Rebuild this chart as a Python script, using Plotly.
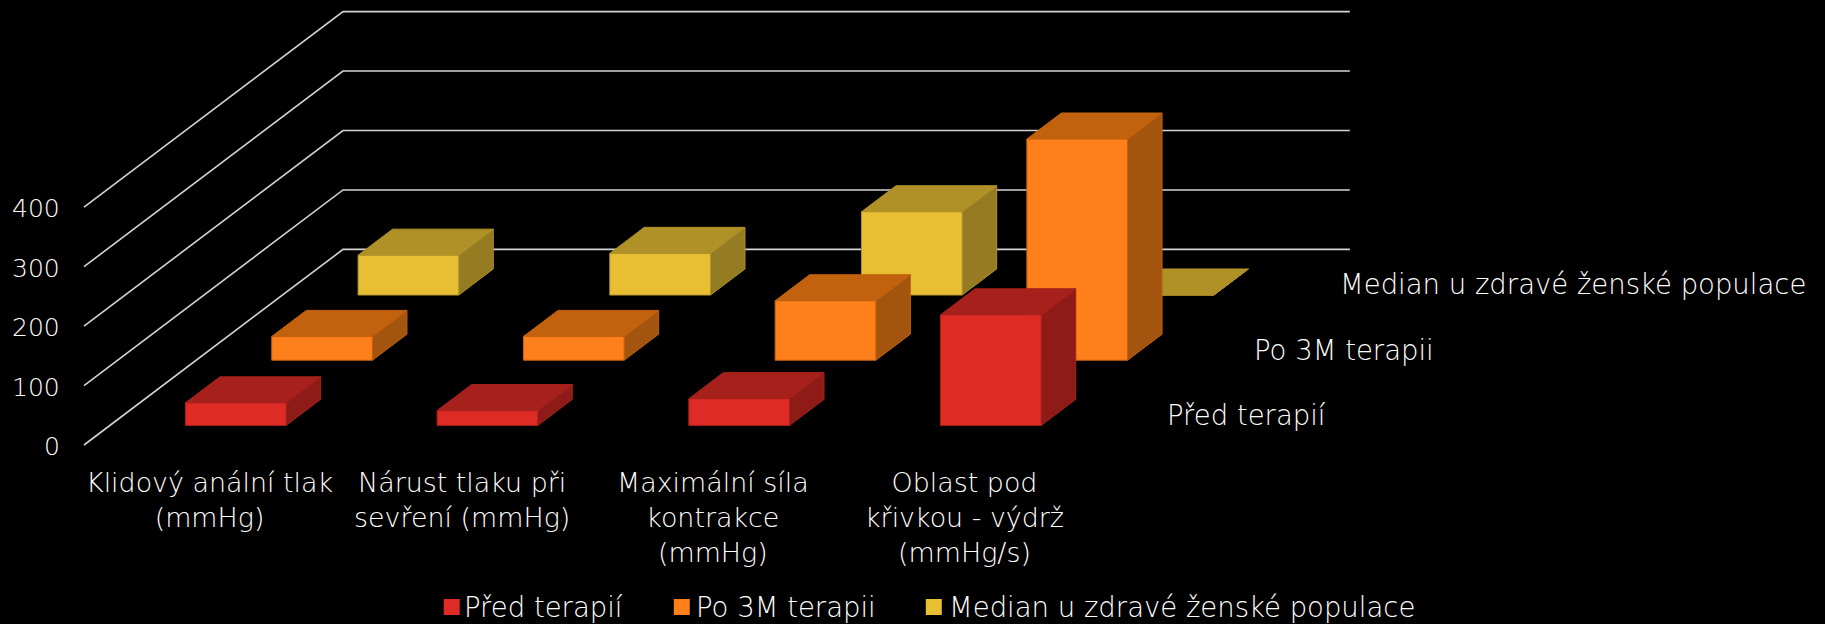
import plotly.graph_objects as go

categories = [
    "Klidový anální tlak<br>(mmHg)",
    "Nárust tlaku při<br>sevření (mmHg)",
    "Maximální síla<br>kontrakce<br>(mmHg)",
    "Oblast pod<br>křivkou - výdrž<br>(mmHg/s)",
]
series_names = ["Před terapií", "Po 3M terapii", "Median u zdravé ženské populace"]
pred_terapii = [38, 25, 45, 186]
po_3m_terapii = [40, 40, 100, 372]
median_populace = [67, 70, 140, 0]
series_values = [pred_terapii, po_3m_terapii, median_populace]
value_ticks = [0, 100, 200, 300, 400]

# face colours per series: front, top, side
face_colors = [
    ("#DE2B26", "#A6201C", "#8F1B18"),
    ("#FF7F1A", "#C2620F", "#A3540F"),
    ("#E8BF33", "#B09128", "#957B22"),
]
edge_colors = ["#A6201C", "#C2620F", "#B09128"]

WIDTH, HEIGHT = 1825, 624
ORIGIN_X, ORIGIN_Y = 84, 445     # pixel position of category 0, value 0
PX_PER_CAT = 251.7
PX_PER_VALUE = 0.5945
DEPTH_X = 259 / PX_PER_CAT       # full depth shift along the x axis
DEPTH_Y = 195.6 / PX_PER_VALUE   # full depth shift along the y axis
GAP = 0.3                        # gap on each side of a bar, as part of its slot
FONT = "DejaVu Sans"
TEXT_SIZE = 27.5
CATEGORY_SIZE = 26.9
TICK_SIZE = 25

# key row under the chart: swatch centres and label starts, in pixels
KEY_Y = 607
KEY_SWATCH_X = [451.7, 681.8, 933.8]
KEY_TEXT_X = [462, 694, 946.5]


def project(cat, value, depth):
    """Oblique projection of (category, value, depth) onto the 2D axes."""
    return cat + depth * DEPTH_X, value + depth * DEPTH_Y


def from_px(px, py):
    """Convert a pixel position on the page to axis units."""
    return (px - ORIGIN_X) / PX_PER_CAT, (ORIGIN_Y - py) / PX_PER_VALUE


def polygon(corners):
    xs, ys = zip(*[project(*c) for c in corners])
    return list(xs) + [xs[0], None], list(ys) + [ys[0], None]


fig = go.Figure()

# wall and floor gridlines
n_cat = len(categories)
for v in value_ticks:
    pts = [project(0, v, 0), project(0, v, 1), project(n_cat, v, 1)]
    fig.add_trace(go.Scatter(
        x=[p[0] for p in pts], y=[p[1] for p in pts], mode="lines",
        line=dict(color="#D4D4D4", width=1.6), hoverinfo="skip", showlegend=False,
    ))

# bars, rows from back to front so nearer rows cover farther ones
n_rows = len(series_values)
for row in reversed(range(n_rows)):
    d0 = (row + GAP) / n_rows
    d1 = (row + 1 - GAP) / n_rows
    faces = [([], []), ([], []), ([], [])]
    for i, v in enumerate(series_values[row]):
        c0, c1 = i + GAP, i + 1 - GAP
        quads = [
            [(c0, 0, d0), (c1, 0, d0), (c1, v, d0), (c0, v, d0)],
            [(c0, v, d0), (c1, v, d0), (c1, v, d1), (c0, v, d1)],
            [(c1, 0, d0), (c1, 0, d1), (c1, v, d1), (c1, v, d0)],
        ]
        for face, quad in zip(faces, quads):
            xs, ys = polygon(quad)
            face[0].extend(xs)
            face[1].extend(ys)
    for (xs, ys), color in zip([faces[2], faces[1], faces[0]], reversed(face_colors[row])):
        fig.add_trace(go.Scatter(
            x=xs, y=ys, mode="lines", fill="toself", fillcolor=color,
            line=dict(color=edge_colors[row], width=1),
            hoverinfo="skip", showlegend=False,
        ))

text_font = dict(family=FONT, size=TEXT_SIZE, color="#FFFFFF", weight=200)
annotations = []

# value axis labels
for v in value_ticks:
    x, y = project(-0.087, v, 0)
    annotations.append(dict(
        x=x, y=y - 3, text=str(v), xanchor="right", yanchor="middle",
        font=dict(text_font, size=TICK_SIZE),
    ))

# category labels under the front edge
for i, label in enumerate(categories):
    x, y = project(i + 0.5, -40, 0)
    annotations.append(dict(
        x=x, y=y + 7, text=label, xanchor="center", yanchor="top",
        font=dict(text_font, size=CATEGORY_SIZE),
    ))

# series labels beside each row
for row, name in enumerate(series_names):
    d = (row + 0.5) / n_rows
    x, y = project(n_cat + 0.125, 0, d)
    annotations.append(dict(x=x, y=y - 4, text=name, xanchor="left", yanchor="middle"))

# colour key below the categories
for name, colors, sx, tx in zip(series_names, face_colors, KEY_SWATCH_X, KEY_TEXT_X):
    x, y = from_px(sx, KEY_Y)
    fig.add_trace(go.Scatter(
        x=[x], y=[y], mode="markers", name=name, hoverinfo="skip", showlegend=False,
        marker=dict(symbol="square", size=16, color=colors[0]),
    ))
    x, y = from_px(tx, KEY_Y)
    annotations.append(dict(x=x, y=y, text=name, xanchor="left", yanchor="middle"))

for a in annotations:
    a.update(xref="x", yref="y", showarrow=False, align="center")
    a.setdefault("font", text_font)

fig.update_layout(
    width=WIDTH, height=HEIGHT,
    margin=dict(l=0, r=0, t=0, b=0),
    paper_bgcolor="#000000", plot_bgcolor="#000000",
    showlegend=False,
    annotations=annotations,
    xaxis=dict(
        range=[-ORIGIN_X / PX_PER_CAT, (WIDTH - ORIGIN_X) / PX_PER_CAT],
        visible=False, fixedrange=True,
    ),
    yaxis=dict(
        range=[(ORIGIN_Y - HEIGHT) / PX_PER_VALUE, ORIGIN_Y / PX_PER_VALUE],
        visible=False, fixedrange=True,
    ),
)

fig.write_html("out.html", config=dict(displayModeBar=False))
